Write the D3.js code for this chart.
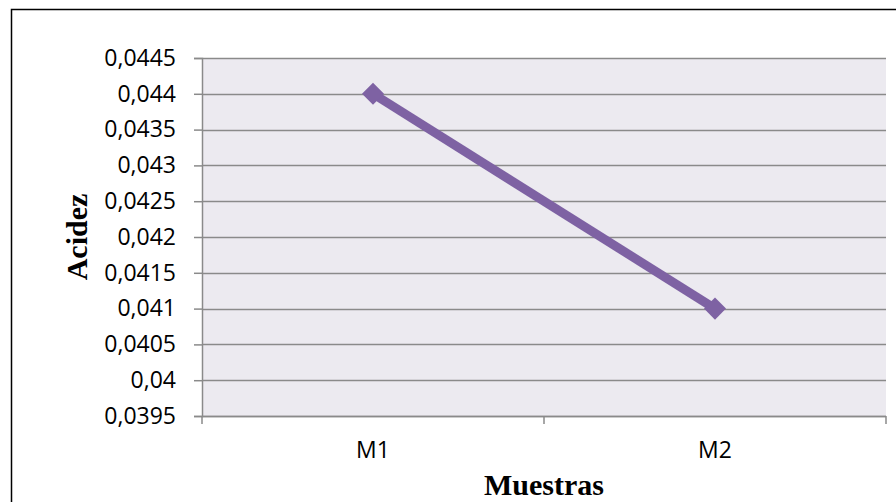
<!DOCTYPE html>
<html>
<head>
<meta charset="utf-8">
<script src="https://cdn.jsdelivr.net/npm/d3@7/dist/d3.min.js"></script>
<style>
  html, body { margin: 0; padding: 0; background: #fff; }
  svg { display: block; }
</style>
</head>
<body>
<svg id="chart" width="896" height="502"></svg>
<script>
// Muestras y valores de acidez
const categories = ["M1", "M2"];
const acidez = [0.044, 0.041];
const yTicks = [0.0395, 0.04, 0.0405, 0.041, 0.0415, 0.042, 0.0425, 0.043, 0.0435, 0.044, 0.0445];
const xTitle = "Muestras";
const yTitle = "Acidez";

const svg = d3.select("#chart");
const W = 896, H = 502;
const plot = { left: 202, right: 886, top: 58, bottom: 416 };

// frame around the whole chart
svg.append("rect")
  .attr("x", 11.5).attr("y", 9.5)
  .attr("width", W + 20).attr("height", H + 20)
  .attr("fill", "#fff").attr("stroke", "#000").attr("stroke-width", 1.5);

const x = d3.scaleBand().domain(categories).range([plot.left, plot.right]);
const y = d3.scaleLinear().domain([0.0395, 0.0445]).range([plot.bottom, plot.top]);

// plot area
svg.append("rect")
  .attr("x", plot.left).attr("y", plot.top)
  .attr("width", plot.right - plot.left).attr("height", plot.bottom - plot.top)
  .attr("fill", "#ECEAF0");

const fmt = d => String(+d.toFixed(4)).replace(".", ",");

// horizontal gridlines
svg.append("g")
  .selectAll("line")
  .data(yTicks)
  .join("line")
  .attr("x1", plot.left).attr("x2", plot.right)
  .attr("y1", d => Math.round(y(d)) + 0.5).attr("y2", d => Math.round(y(d)) + 0.5)
  .attr("stroke", "#8A8A8A").attr("stroke-width", 1.5);

// y axis
const yAxis = svg.append("g")
  .attr("transform", `translate(${plot.left},0)`)
  .call(d3.axisLeft(y).tickValues(yTicks).tickFormat(fmt).tickSize(8).tickPadding(18));
yAxis.select(".domain").attr("stroke", "#8A8A8A").attr("stroke-width", 1.5);
yAxis.selectAll(".tick line").attr("stroke", "#8A8A8A").attr("stroke-width", 1.5);
yAxis.selectAll(".tick text")
  .attr("fill", "#000")
  .style("font-family", "'Open Sans', sans-serif")
  .style("font-size", "23px");

// x axis with ticks between categories
const xAxisG = svg.append("g").attr("transform", `translate(0,${plot.bottom})`);
xAxisG.append("line")
  .attr("x1", plot.left).attr("x2", plot.right)
  .attr("y1", 0.5).attr("y2", 0.5)
  .attr("stroke", "#8A8A8A").attr("stroke-width", 1.5);
const bounds = [plot.left].concat(categories.map(c => x(c) + x.bandwidth()));
xAxisG.selectAll("line.tk")
  .data(bounds)
  .join("line")
  .attr("class", "tk")
  .attr("x1", d => d).attr("x2", d => d)
  .attr("y1", 0).attr("y2", 8)
  .attr("stroke", "#8A8A8A").attr("stroke-width", 1.5);
xAxisG.selectAll("text")
  .data(categories)
  .join("text")
  .attr("x", d => x(d) + x.bandwidth() / 2)
  .attr("y", 42)
  .attr("text-anchor", "middle")
  .attr("fill", "#000")
  .style("font-family", "'Open Sans', sans-serif")
  .style("font-size", "23px")
  .text(d => d);

// series line and markers
const pts = categories.map((c, i) => [x(c) + x.bandwidth() / 2, y(acidez[i])]);
svg.append("path")
  .attr("d", d3.line()(pts))
  .attr("fill", "none")
  .attr("stroke", "#7E62A3")
  .attr("stroke-width", 9)
  .attr("stroke-linejoin", "round");
svg.append("g")
  .selectAll("path")
  .data(pts)
  .join("path")
  .attr("transform", d => `translate(${d[0]},${d[1]})`)
  .attr("d", d3.symbol(d3.symbolDiamond2, 310)())
  .attr("fill", "#7E62A3");

// axis titles
svg.append("text")
  .attr("x", (plot.left + plot.right) / 2)
  .attr("y", 495)
  .attr("text-anchor", "middle")
  .style("font-family", "'Liberation Serif', 'Times New Roman', serif")
  .style("font-weight", "bold")
  .style("font-size", "30px")
  .text(xTitle);

svg.append("text")
  .attr("transform", `translate(87,${(plot.top + plot.bottom) / 2}) rotate(-90)`)
  .attr("text-anchor", "middle")
  .style("font-family", "'Liberation Serif', 'Times New Roman', serif")
  .style("font-weight", "bold")
  .style("font-size", "30px")
  .text(yTitle);
</script>
</body>
</html>
